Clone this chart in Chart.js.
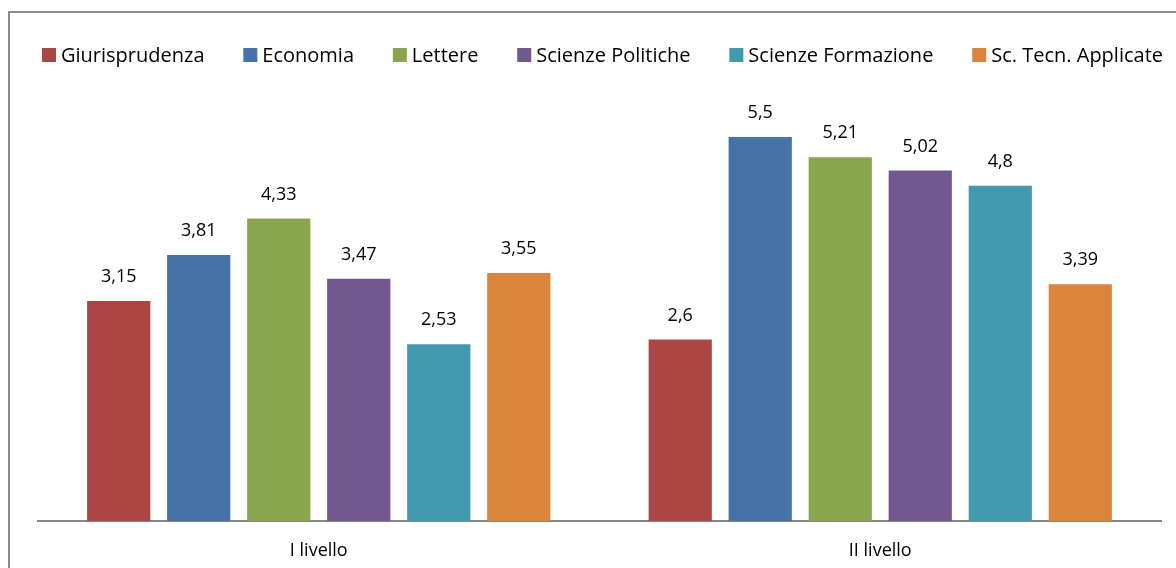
<!DOCTYPE html>
<html>
<head>
<meta charset="utf-8">
<script src="https://cdn.jsdelivr.net/npm/chart.js@4/dist/chart.umd.min.js"></script>
<style>
html,body{margin:0;padding:0;background:#fff;}
#wrap{position:relative;width:1176px;height:568px;}
</style>
</head>
<body>
<div id="wrap"><canvas id="c" width="1176" height="568"></canvas></div>
<script>
const categories = ["I livello", "II livello"];
const seriesNames = ["Giurisprudenza", "Economia", "Lettere", "Scienze Politiche", "Scienze Formazione", "Sc. Tecn. Applicate"];
const giurisprudenza = [3.15, 2.6];
const economia = [3.81, 5.5];
const lettere = [4.33, 5.21];
const scienzePolitiche = [3.47, 5.02];
const scienzeFormazione = [2.53, 4.8];
const scTecnApplicate = [3.55, 3.39];
const colors = ["#AA4643", "#4572A7", "#89A54E", "#71588F", "#4198AF", "#DB843D"];

const seriesValues = [giurisprudenza, economia, lettere, scienzePolitiche, scienzeFormazione, scTecnApplicate];

const FONT = "'Open Sans', 'DejaVu Sans', sans-serif";

const frame = {
  id: 'frame',
  beforeDraw(chart) {
    const ctx = chart.ctx;
    ctx.save();
    ctx.fillStyle = '#fff';
    ctx.fillRect(0, 0, chart.width, chart.height);
    ctx.strokeStyle = '#8c8c8c';
    ctx.lineWidth = 2;
    ctx.strokeRect(9, 12, chart.width + 20, chart.height + 20);
    ctx.restore();
  }
};

// legend drawn in a row, spread between left and right edges like the original
const rowLegend = {
  id: 'rowLegend',
  afterDraw(chart) {
    const ctx = chart.ctx;
    const left = 42, right = 1163, cy = 55, box = 14, gapText = 5;
    ctx.save();
    ctx.font = "20px " + FONT;
    ctx.textBaseline = 'middle';
    ctx.textAlign = 'left';
    const ds = chart.data.datasets;
    const widths = ds.map(d => ctx.measureText(d.label).width);
    const used = widths.reduce((a, w) => a + box + gapText + w, 0);
    const gap = (right - left - used) / (ds.length - 1);
    let x = left;
    ds.forEach((d, i) => {
      ctx.fillStyle = d.backgroundColor;
      ctx.fillRect(x, cy - box / 2, box, box);
      ctx.fillStyle = '#000';
      ctx.fillText(d.label, x + box + gapText, cy + 1);
      x += box + gapText + widths[i] + gap;
    });
    ctx.restore();
  }
};

const valueLabels = {
  id: 'valueLabels',
  afterDatasetsDraw(chart) {
    const ctx = chart.ctx;
    ctx.save();
    ctx.font = "18px " + FONT;
    ctx.fillStyle = '#000';
    ctx.textAlign = 'center';
    ctx.textBaseline = 'middle';
    chart.data.datasets.forEach((ds, i) => {
      const meta = chart.getDatasetMeta(i);
      meta.data.forEach((bar, j) => {
        const txt = String(ds.data[j]).replace('.', ',');
        ctx.fillText(txt, bar.x, bar.y - 24);
      });
    });
    ctx.restore();
  }
};

new Chart(document.getElementById('c'), {
  type: 'bar',
  data: {
    labels: categories,
    datasets: seriesNames.map((name, i) => ({
      label: name,
      data: seriesValues[i],
      backgroundColor: colors[i],
      borderWidth: 0,
      barPercentage: 0.79,
      categoryPercentage: 0.855
    }))
  },
  options: {
    responsive: false,
    animation: false,
    devicePixelRatio: 1,
    layout: { padding: { left: 38, right: 15, top: 102, bottom: 0 } },
    plugins: {
      legend: { display: false },
      tooltip: { enabled: false },
      title: { display: false }
    },
    scales: {
      x: {
        grid: { display: false, drawTicks: false },
        border: { display: true, color: '#868686', width: 2 },
        ticks: { color: '#000', padding: 19, font: { family: FONT, size: 18 } },
        afterFit(scale) { scale.height = 47; }
      },
      y: {
        display: false,
        min: 0,
        max: 6
      }
    }
  },
  plugins: [frame, valueLabels, rowLegend]
});
</script>
</body>
</html>
